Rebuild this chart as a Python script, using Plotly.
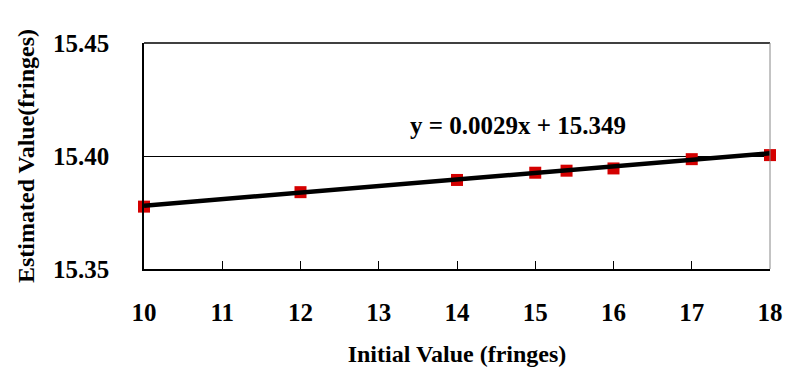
import plotly.graph_objects as go

x_vals = [10, 12, 14, 15, 15.4, 16, 17, 18]
y_vals = [15.3776, 15.3840, 15.3894, 15.3926, 15.3935, 15.3945, 15.3986, 15.4004]
slope = 0.0029
intercept = 15.349
x_ticks = [10, 11, 12, 13, 14, 15, 16, 17, 18]
y_ticks = [15.35, 15.40, 15.45]
y_tick_text = ["15.35", "15.40", "15.45"]

fit_x = [min(x_vals), max(x_vals)]
fit_y = [slope * v + intercept for v in fit_x]

font = "Liberation Serif"
fig = go.Figure()
fig.add_trace(go.Scatter(x=x_vals, y=y_vals, mode="markers",
                         marker=dict(symbol="square", size=12, color="#d40000"),
                         showlegend=False, cliponaxis=False))
fig.add_trace(go.Scatter(x=fit_x, y=fit_y, mode="lines",
                         line=dict(color="black", width=4.5),
                         showlegend=False, cliponaxis=False))

fig.add_annotation(x=(524 - 144) / 636, y=(269 - 125) / 226,
                   xref="x domain", yref="y domain",
                   text="<b>y = 0.0029x + 15.349</b>", showarrow=False,
                   font=dict(family=font, size=25, color="black"))

fig.update_layout(
    width=795, height=379,
    margin=dict(l=144, r=15, t=43, b=110),
    paper_bgcolor="white", plot_bgcolor="white",
    font=dict(family=font, color="black"),
    xaxis=dict(range=[10, 18], tickvals=x_ticks, ticks="inside", ticklen=8,
               tickcolor="black", showline=True, linecolor="black", linewidth=1.5,
               showgrid=False, zeroline=False, ticklabelstandoff=20,
               tickfont=dict(family=font, size=25, color="black", weight="bold"),
               title=dict(text="<b>Initial Value (fringes)</b>", standoff=20,
                          font=dict(family=font, size=24, color="black"))),
    yaxis=dict(range=[15.35, 15.45], tickvals=y_ticks, ticktext=y_tick_text,
               ticks="", showline=True, linecolor="black", linewidth=1.5,
               showgrid=True, gridcolor="black", gridwidth=1, zeroline=False,
               ticklabelstandoff=28,
               tickfont=dict(family=font, size=25, color="black", weight="bold"),
               title=dict(text="<b>Estimated Value(fringes)</b>", standoff=12,
                          font=dict(family=font, size=24, color="black"))),
    shapes=[
        dict(type="line", xref="paper", yref="paper", x0=0, x1=1, y0=1, y1=1,
             line=dict(color="black", width=1.5)),
        dict(type="line", xref="paper", yref="paper", x0=1, x1=1, y0=0, y1=1,
             line=dict(color="#888888", width=1)),
    ],
)

fig.write_html("out.html")
